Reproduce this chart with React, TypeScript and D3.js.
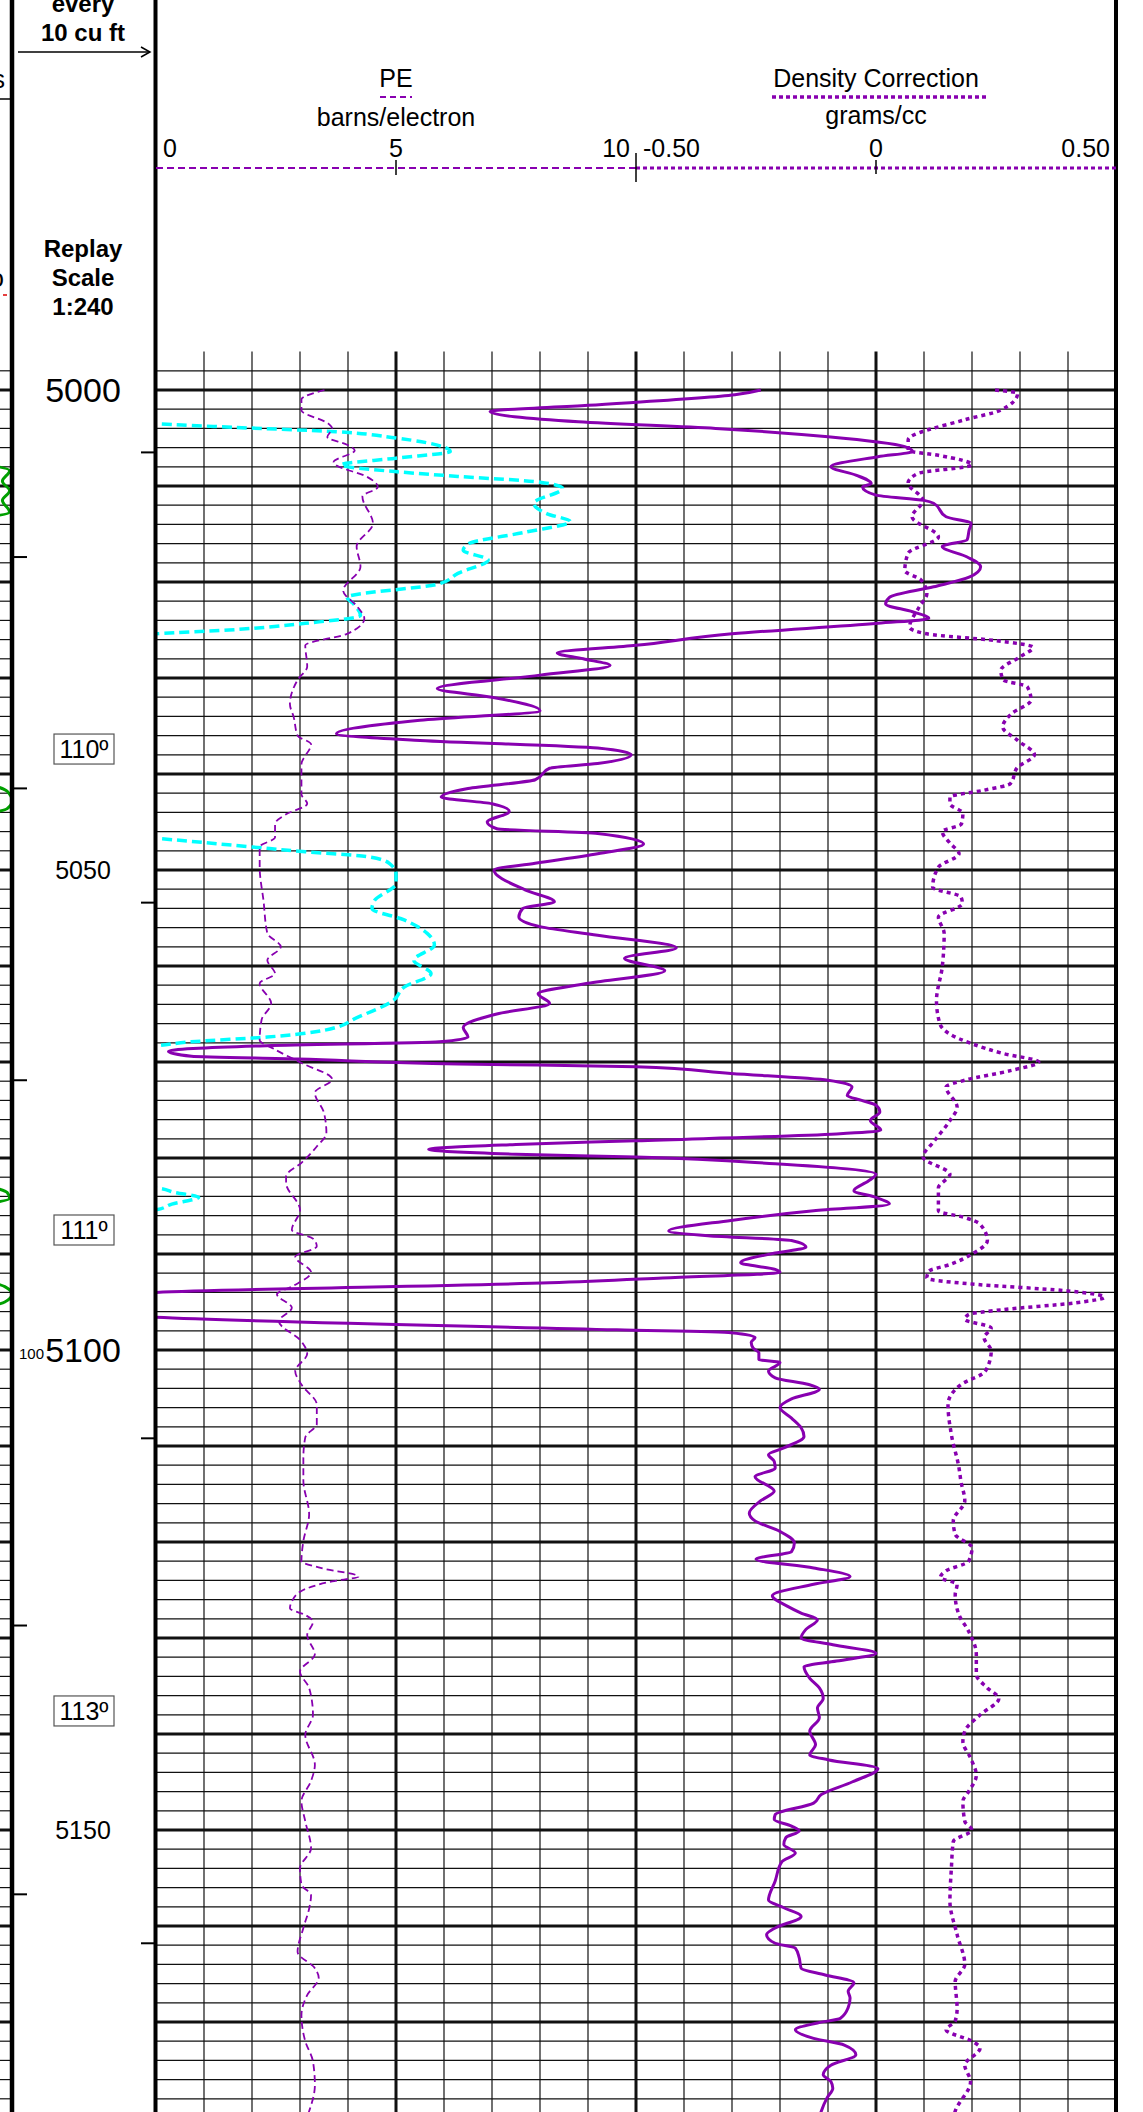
import React from 'react'
import * as d3 from 'd3'

// depth offsets are feet below 5000
// solid curve, g/cc on a 1.95 - 2.95 scale across the whole track
const solidCurve: [number, number][] = [
  [0, 2.58], [0.5, 2.553], [1.6, 2.4], [2.25, 2.298], [3.3, 2.39], [4.0, 2.533], [4.87, 2.65], [5.9, 2.73],
  [6.4, 2.738], [6.95, 2.702], [8.0, 2.653], [8.86, 2.679], [9.73, 2.695], [10.1, 2.686], [10.95, 2.7],
  [11.5, 2.75], [11.8, 2.76], [13.2, 2.773], [13.9, 2.799], [14.6, 2.797], [15.6, 2.795], [16.3, 2.769],
  [17.4, 2.795], [18.4, 2.809], [19.5, 2.797], [20.5, 2.76], [21.6, 2.714], [22.3, 2.71], [23.1, 2.738],
  [23.8, 2.755], [24.3, 2.702], [25.4, 2.55], [26.6, 2.45], [27.4, 2.368], [28.0, 2.395], [28.7, 2.423],
  [29.7, 2.35], [31.1, 2.243], [32.0, 2.3], [33.4, 2.35], [34.4, 2.225], [35.8, 2.138], [36.5, 2.225],
  [37.3, 2.41], [38.0, 2.445], [38.9, 2.41], [39.4, 2.36], [40.6, 2.345], [41.5, 2.275], [42.4, 2.247],
  [43.1, 2.3], [43.9, 2.318], [45.0, 2.295], [45.7, 2.305], [46.2, 2.41], [47.3, 2.458], [48.3, 2.41],
  [49.3, 2.345], [50.0, 2.302], [52.1, 2.335], [53.3, 2.365], [54.0, 2.332], [54.9, 2.328], [55.9, 2.35],
  [56.8, 2.41], [58.1, 2.492], [59.2, 2.438], [60.5, 2.48], [61.8, 2.4], [62.9, 2.348], [63.9, 2.36],
  [65.0, 2.305], [66.4, 2.27], [67.4, 2.275], [67.9, 2.245], [68.3, 2.065], [68.9, 1.963], [69.4, 1.987],
  [69.7, 2.098], [70.2, 2.265], [70.5, 2.45], [71.2, 2.549], [71.9, 2.65], [72.6, 2.675], [73.5, 2.67],
  [74.0, 2.685], [74.5, 2.7], [75.2, 2.704], [76.1, 2.694], [77.1, 2.705], [77.5, 2.659], [78.2, 2.45],
  [78.6, 2.325], [79.1, 2.234], [79.6, 2.325], [79.9, 2.45], [80.6, 2.595], [81.7, 2.7], [82.4, 2.692],
  [83.4, 2.677], [84.1, 2.7], [84.8, 2.714], [85.5, 2.635], [86.5, 2.549], [87.6, 2.484], [88.1, 2.525],
  [88.6, 2.612], [89.3, 2.627], [89.9, 2.595], [90.9, 2.559], [91.6, 2.595], [91.9, 2.6], [92.5, 2.478],
  [93.0, 2.36], [94.0, 1.95], [94.6, 1.875], [96.0, 1.875], [96.6, 1.95], [97.9, 2.43], [98.2, 2.549],
  [98.7, 2.574], [99.2, 2.57], [99.8, 2.572], [100.3, 2.578], [101.0, 2.578], [101.3, 2.6], [102.2, 2.588],
  [102.9, 2.595], [103.6, 2.63], [104.1, 2.641], [105.1, 2.612], [106.0, 2.6], [107.1, 2.612], [108.1, 2.622],
  [109.0, 2.625], [110.2, 2.604], [110.9, 2.588], [111.6, 2.594], [112.3, 2.595], [113.2, 2.574],
  [114.7, 2.594], [115.7, 2.58], [117.0, 2.568], [117.8, 2.574], [118.9, 2.6], [120.1, 2.615], [121.0, 2.612],
  [121.8, 2.575], [122.7, 2.635], [123.6, 2.673], [124.4, 2.635], [125.6, 2.592], [126.7, 2.608],
  [127.4, 2.622], [128.1, 2.639], [129.1, 2.627], [130.0, 2.622], [130.7, 2.655], [131.6, 2.7], [132.4, 2.659],
  [133.0, 2.625], [134.2, 2.631], [135.2, 2.641], [136.3, 2.645], [137.3, 2.639], [138.3, 2.641],
  [139.7, 2.631], [141.1, 2.637], [142.2, 2.631], [142.7, 2.651], [143.6, 2.702], [145.0, 2.675],
  [146.3, 2.643], [147.2, 2.635], [148.4, 2.595], [148.9, 2.594], [149.6, 2.612], [150.1, 2.62], [150.8, 2.606],
  [151.5, 2.604], [152.4, 2.616], [153.3, 2.602], [155.3, 2.595], [157.3, 2.588], [158.1, 2.604], [159.0, 2.622],
  [160.2, 2.595], [160.9, 2.586], [161.8, 2.595], [162.3, 2.616], [163.3, 2.62], [164.4, 2.622], [165.1, 2.647],
  [165.9, 2.677], [166.8, 2.671], [167.5, 2.673], [168.5, 2.671], [169.6, 2.663], [170.1, 2.639], [170.8, 2.616],
  [171.7, 2.635], [172.4, 2.667], [173.4, 2.679], [174.5, 2.653], [175.5, 2.645], [176.2, 2.653], [176.9, 2.655],
  [177.9, 2.649], [179.3, 2.643], [180.5, 2.64],
]

// PE, barns/electron
const peCurve: [number, number][] = [
  [0, 3.51], [1.0, 3.03], [2.1, 3.03], [3.5, 3.59], [4.0, 3.67], [4.9, 3.57], [5.7, 3.98], [6.3, 4.14],
  [7.5, 3.7], [7.8, 3.74], [9.0, 4.38], [10.1, 4.62], [11.1, 4.3], [13.9, 4.52], [16.3, 4.18], [18.4, 4.26],
  [20.9, 3.9], [22.6, 4.2], [23.8, 4.34], [25.4, 3.98], [26.6, 3.11], [28.8, 3.15], [30.2, 2.95], [32.7, 2.79],
  [34.1, 2.87], [36.0, 2.95], [36.9, 3.23], [39.0, 3.03], [42.1, 3.03], [43.1, 3.15], [44.2, 2.71], [45.2, 2.48],
  [46.6, 2.48], [47.6, 2.16], [49.7, 2.16], [53.2, 2.24], [56.6, 2.32], [58.0, 2.6], [59.4, 2.32], [60.8, 2.48],
  [61.8, 2.16], [63.9, 2.4], [65.6, 2.2], [67.7, 2.16], [68.7, 2.48], [70.1, 3.03], [71.8, 3.67], [73.2, 3.31],
  [75.3, 3.5], [77.4, 3.55], [78.8, 3.35], [80.5, 3.03], [81.9, 2.71], [82.6, 2.71], [85.4, 3.0], [87.5, 2.83],
  [88.4, 3.27], [89.2, 3.35], [90.3, 2.9], [91.9, 3.23], [93.3, 2.87], [94.2, 2.52], [95.6, 2.83], [97.0, 2.56],
  [99.1, 3.03], [100.4, 3.15], [102.2, 2.9], [103.6, 3.03], [105.7, 3.35], [107.7, 3.35], [109.1, 3.11],
  [111.2, 3.07], [113.6, 3.07], [117.1, 3.19], [119.9, 3.07], [122.0, 3.03], [122.7, 3.43], [123.6, 4.22],
  [124.1, 3.67], [125.1, 3.03], [126.2, 2.83], [126.9, 2.79], [127.6, 3.11], [128.3, 3.27], [129.7, 3.15],
  [131.7, 3.31], [133.5, 3.0], [135.2, 3.19], [138.0, 3.27], [140.1, 3.11], [143.2, 3.31], [144.9, 3.23],
  [147.0, 3.03], [149.1, 3.11], [151.9, 3.23], [154.0, 3.0], [155.7, 3.03], [156.8, 3.23], [158.2, 3.19],
  [160.2, 3.07], [162.7, 2.95], [164.4, 3.31], [165.4, 3.39], [167.2, 3.15], [169.3, 3.03], [172.0, 3.11],
  [174.1, 3.27], [176.6, 3.31], [179.3, 3.19], [180.5, 3.1],
]

// Density Correction, g/cc
const dcorCurve: [number, number][] = [
  [0, 0.248], [0.35, 0.295], [2.1, 0.26], [3.1, 0.185], [5.2, 0.067], [6.3, 0.067], [6.8, 0.13], [7.8, 0.2],
  [8.7, 0.087], [9.7, 0.067], [11.5, 0.098], [13.2, 0.075], [15.3, 0.13], [17.0, 0.067], [18.8, 0.06],
  [19.8, 0.094], [21.2, 0.106], [22.6, 0.09], [24.7, 0.07], [25.4, 0.106], [26.1, 0.248], [26.8, 0.327],
  [27.8, 0.3], [29.2, 0.26], [30.2, 0.265], [30.9, 0.315], [32.3, 0.323], [33.7, 0.283], [35.1, 0.264],
  [36.5, 0.295], [38.0, 0.33], [39.3, 0.295], [41.0, 0.28], [41.7, 0.224], [42.4, 0.154], [43.1, 0.154],
  [44.1, 0.181], [45.2, 0.178], [46.0, 0.138], [47.2, 0.154], [48.3, 0.173], [49.7, 0.13], [51.8, 0.118],
  [52.8, 0.177], [53.5, 0.18], [54.9, 0.13], [56.6, 0.142], [60.1, 0.138], [63.6, 0.126], [66.0, 0.133],
  [67.1, 0.154], [68.1, 0.2], [69.1, 0.264], [70.0, 0.339], [70.9, 0.28], [71.9, 0.185], [72.6, 0.146],
  [74.7, 0.169], [76.1, 0.154], [78.2, 0.122], [79.9, 0.098], [81.7, 0.154], [83.1, 0.13], [85.5, 0.13],
  [86.2, 0.185], [86.9, 0.217], [88.6, 0.232], [90.0, 0.2], [91.1, 0.154], [91.8, 0.11], [92.5, 0.106],
  [93.2, 0.217], [93.8, 0.39], [94.5, 0.476], [95.1, 0.413], [95.8, 0.264], [96.3, 0.193], [96.8, 0.185],
  [97.7, 0.24], [98.7, 0.225], [100.1, 0.24], [102.2, 0.228], [103.6, 0.177], [105.7, 0.15], [108.8, 0.157],
  [112.3, 0.173], [113.7, 0.177], [115.7, 0.185], [117.8, 0.161], [119.2, 0.165], [120.6, 0.2], [122.0, 0.193],
  [123.0, 0.146], [123.7, 0.134], [124.4, 0.169], [125.5, 0.165], [127.6, 0.173], [129.3, 0.193], [131.7, 0.209],
  [133.8, 0.209], [135.2, 0.232], [136.3, 0.256], [138.0, 0.217], [139.7, 0.185], [140.8, 0.181], [142.5, 0.197],
  [144.3, 0.209], [146.0, 0.193], [147.0, 0.181], [149.1, 0.185], [150.0, 0.2], [151.2, 0.161], [154.0, 0.157],
  [157.4, 0.154], [160.9, 0.169], [164.0, 0.185], [165.8, 0.165], [168.6, 0.169], [169.9, 0.165], [170.8, 0.146],
  [172.0, 0.2], [172.7, 0.217], [174.5, 0.185], [176.2, 0.197], [179.3, 0.165], [180.5, 0.16],
]

// cyan dashed curve, read on the PE scale, three visible runs
const cyanRuns: [number, number][][] = [
  [
    [3.3, -0.5], [3.5, 0], [3.9, 1.68], [4.35, 3.75], [5.0, 5.0], [5.9, 5.97], [6.4, 6.13], [7.1, 5.0], [7.8, 3.86],
    [8.5, 4.98], [9.0, 6.29], [9.6, 8.0], [10.25, 8.47], [11.8, 7.87], [12.9, 8.15], [13.7, 8.63], [14.8, 7.71],
    [16.0, 6.52], [16.7, 6.4], [17.7, 6.92], [19.1, 6.29], [20.2, 5.89], [21.6, 3.98], [22.2, 4.1], [23.5, 4.26],
    [24.3, 3.11], [25.0, 1.52], [25.4, 0], [25.6, -0.5],
  ],
  [
    [46.5, -0.5], [46.7, 0], [47.6, 2.0], [48.1, 3.11], [48.6, 4.38], [49.3, 4.86], [50.4, 5.0], [51.4, 5.0],
    [53.2, 4.55], [54.0, 4.5], [55.2, 5.17], [56.6, 5.65], [57.8, 5.8], [59.4, 5.37], [60.8, 5.73], [62.2, 5.17],
    [63.6, 4.94], [65.3, 4.22], [66.7, 3.5], [67.4, 2.32], [67.9, 0.73], [68.3, 0], [68.5, -0.5],
  ],
  [[82.9, -0.5], [83.1, 0], [83.6, 0.4], [84.1, 0.89], [84.8, 0.33], [85.4, 0], [85.6, -0.5]],
]

// green curve of the track to the left, only its edge shows
const greenRuns: [number, number][][] = [
  [[7.5, 9.0], [8.4, 9.95], [9.5, 9.8], [10.5, 9.95], [11.5, 9.8], [12.7, 9.95], [13.5, 9.0]],
  [[40.5, 9.0], [41.8, 9.9], [42.8, 10.0], [43.6, 9.9], [44.5, 9.0]],
  [[82.5, 9.0], [83.6, 9.9], [84.2, 9.95], [85.0, 9.0]],
  [[92.3, 9.0], [93.4, 9.85], [94.2, 10.0], [95.0, 9.85], [96.0, 9.0]],
]

const depthLabels = [5000, 5050, 5100, 5150]
const tempDepths = [5037.4, 5087.5, 5137.6]
const tempTexts = ['110º', '111º', '113º']
const volTicksLeft = [5017.4, 5041.5, 5071.9, 5128.7, 5156.7]
const volTicksRight = [5006.5, 5053.4, 5109.2, 5161.8]
const peTicks = [0, 5, 10]
const peTickLabels = ['0', '5', '10']
const dcorTicks = [-0.5, 0, 0.5]
const dcorTickLabels = ['-0.50', '0', '0.50']

const W = 1143
const H = 2112
const PURPLE = '#8800b0'
const FONT = '"Liberation Sans", Arial, sans-serif'

const App = () => {
  const trackLeft = 156
  const trackRight = 1116
  const xDiv = d3.scaleLinear().domain([0, 20]).range([trackLeft, trackRight])
  const xPE = d3.scaleLinear().domain([0, 10]).range([trackLeft, xDiv(10)])
  const xDC = d3.scaleLinear().domain([-0.5, 0.5]).range([xDiv(10), trackRight])
  const xRho = d3.scaleLinear().domain([1.95, 2.95]).range([trackLeft, trackRight])
  const xPrev = d3.scaleLinear().domain([0, 10]).range([12 - 480, 12])
  const y = d3.scaleLinear().domain([5000, 5100]).range([390, 1350])
  const gridTop = y(4996)
  const bottomDepth = y.invert(H)

  const lineOf = (xs: d3.ScaleLinear<number, number>) =>
    d3
      .line<[number, number]>()
      .x((d) => xs(d[1]))
      .y((d) => y(5000 + d[0]))
      .curve(d3.curveMonotoneY)

  const hLines = d3.range(4998, bottomDepth, 2)
  const vLines = d3.range(1, 20)

  return (
    <svg
      width={W}
      height={H}
      style={{ position: 'absolute', left: 0, top: 0, background: '#fff' }}
      fontFamily={FONT}
    >
      <defs>
        <clipPath id="track">
          <rect x={trackLeft} y={gridTop} width={trackRight - trackLeft} height={H - gridTop} />
        </clipPath>
        <clipPath id="prev">
          <rect x={0} y={0} width={12} height={H} />
        </clipPath>
      </defs>
      <rect x={0} y={0} width={W} height={H} fill="#fff" />

      {/* grid */}
      {vLines.map((k) => (
        <line
          key={'v' + k}
          x1={xDiv(k)}
          x2={xDiv(k)}
          y1={gridTop}
          y2={H}
          stroke="#111"
          strokeWidth={k % 5 === 0 ? 3 : 1.2}
        />
      ))}
      {hLines.map((d) => (
        <g key={'h' + d}>
          <line
            x1={trackLeft}
            x2={trackRight}
            y1={y(d)}
            y2={y(d)}
            stroke="#111"
            strokeWidth={d % 10 === 0 ? 3 : 1.2}
          />
          <line x1={0} x2={12} y1={y(d)} y2={y(d)} stroke="#111" strokeWidth={d % 10 === 0 ? 3 : 1.2} />
        </g>
      ))}

      {/* curves */}
      <g clipPath="url(#track)" fill="none">
        {cyanRuns.map((run, i) => (
          <path key={'c' + i} d={lineOf(xPE)(run) || ''} stroke="#00ffff" strokeWidth={3.5} strokeDasharray="10 5" />
        ))}
        <path d={lineOf(xPE)(peCurve) || ''} stroke={PURPLE} strokeWidth={1.8} strokeDasharray="7 4" />
        <path d={lineOf(xDC)(dcorCurve) || ''} stroke={PURPLE} strokeWidth={3.5} strokeDasharray="4 4" />
        <path d={lineOf(xRho)(solidCurve) || ''} stroke={PURPLE} strokeWidth={3} strokeLinejoin="round" />
      </g>
      <g clipPath="url(#prev)" fill="none">
        {greenRuns.map((run, i) => (
          <path key={'g' + i} d={lineOf(xPrev)(run) || ''} stroke="#00a000" strokeWidth={3} />
        ))}
      </g>

      {/* borders */}
      <line x1={12} x2={12} y1={0} y2={H} stroke="#000" strokeWidth={4.5} />
      <line x1={155.5} x2={155.5} y1={0} y2={H} stroke="#000" strokeWidth={4} />
      <line x1={trackRight} x2={trackRight} y1={0} y2={H} stroke="#000" strokeWidth={4} />

      {/* volume ticks */}
      {volTicksLeft.map((d) => (
        <line key={'vl' + d} x1={12} x2={27} y1={y(d)} y2={y(d)} stroke="#000" strokeWidth={2} />
      ))}
      {volTicksRight.map((d) => (
        <line key={'vr' + d} x1={141} x2={156} y1={y(d)} y2={y(d)} stroke="#000" strokeWidth={2} />
      ))}

      {/* depth column */}
      {depthLabels.map((d) => {
        const big = d % 100 === 0
        return (
          <text
            key={'dl' + d}
            x={83}
            y={y(d) + (big ? 12 : 9)}
            textAnchor="middle"
            fontSize={big ? 34 : 25}
            fill="#000"
          >
            {d}
          </text>
        )
      })}
      <text x={19} y={1359} fontSize={15} fill="#000">
        100
      </text>
      {tempDepths.map((d, i) => (
        <g key={'t' + i}>
          <rect x={54} y={y(d) - 15} width={60} height={30} fill="#fff" stroke="#555" strokeWidth={1.2} />
          <text x={84} y={y(d) + 9} textAnchor="middle" fontSize={25} fill="#000">
            {tempTexts[i]}
          </text>
        </g>
      ))}

      {/* left header */}
      <g fontWeight="bold" fontSize={24} textAnchor="middle" fill="#000">
        <text x={83} y={12}>every</text>
        <text x={83} y={41}>10 cu ft</text>
        <text x={83} y={257}>Replay</text>
        <text x={83} y={286}>Scale</text>
        <text x={83} y={315}>1:240</text>
      </g>
      <line x1={18} x2={150} y1={52} y2={52} stroke="#000" strokeWidth={1.5} />
      <polyline points="141,47 150,52 141,57" fill="none" stroke="#000" strokeWidth={1.5} />
      <text x={5} y={88} textAnchor="end" fontSize={25} fill="#000">s</text>
      <line x1={0} x2={12} y1={99} y2={99} stroke="#000" strokeWidth={1.5} />
      <text x={4} y={287} textAnchor="end" fontSize={25} fill="#000">o</text>
      <line x1={3} x2={7} y1={295} y2={295} stroke="#d00" strokeWidth={1.5} />

      {/* track header */}
      <g fontSize={25} fill="#000" textAnchor="middle">
        <text x={xPE(5)} y={87}>PE</text>
        <text x={xPE(5)} y={126}>barns/electron</text>
        <text x={xDC(0)} y={87}>Density Correction</text>
        <text x={xDC(0)} y={124}>grams/cc</text>
      </g>
      <line x1={xPE(5) - 16} x2={xPE(5) + 16} y1={97} y2={97} stroke={PURPLE} strokeWidth={2} strokeDasharray="6 4" />
      <line x1={772} x2={988} y1={97} y2={97} stroke={PURPLE} strokeWidth={3.5} strokeDasharray="4 3" />

      {peTicks.map((v, i) => (
        <text
          key={'pt' + v}
          x={i === 0 ? xPE(v) + 7 : i === 2 ? xPE(v) - 6 : xPE(v)}
          y={157}
          fontSize={25}
          textAnchor={i === 0 ? 'start' : i === 2 ? 'end' : 'middle'}
          fill="#000"
        >
          {peTickLabels[i]}
        </text>
      ))}
      {dcorTicks.map((v, i) => (
        <text
          key={'dt' + v}
          x={i === 0 ? xDC(v) + 7 : i === 2 ? xDC(v) - 6 : xDC(v)}
          y={157}
          fontSize={25}
          textAnchor={i === 0 ? 'start' : i === 2 ? 'end' : 'middle'}
          fill="#000"
        >
          {dcorTickLabels[i]}
        </text>
      ))}
      <line x1={trackLeft} x2={xPE(10)} y1={168} y2={168} stroke={PURPLE} strokeWidth={2} strokeDasharray="7 4" />
      <line x1={xDC(-0.5)} x2={trackRight} y1={168} y2={168} stroke={PURPLE} strokeWidth={3} strokeDasharray="4 3" />
      <line x1={xPE(5)} x2={xPE(5)} y1={160} y2={175} stroke="#000" strokeWidth={1.5} />
      <line x1={xPE(10)} x2={xPE(10)} y1={153} y2={182} stroke="#000" strokeWidth={1.5} />
      <line x1={xDC(0)} x2={xDC(0)} y1={160} y2={174} stroke="#000" strokeWidth={1.5} />
    </svg>
  )
}

export default App
